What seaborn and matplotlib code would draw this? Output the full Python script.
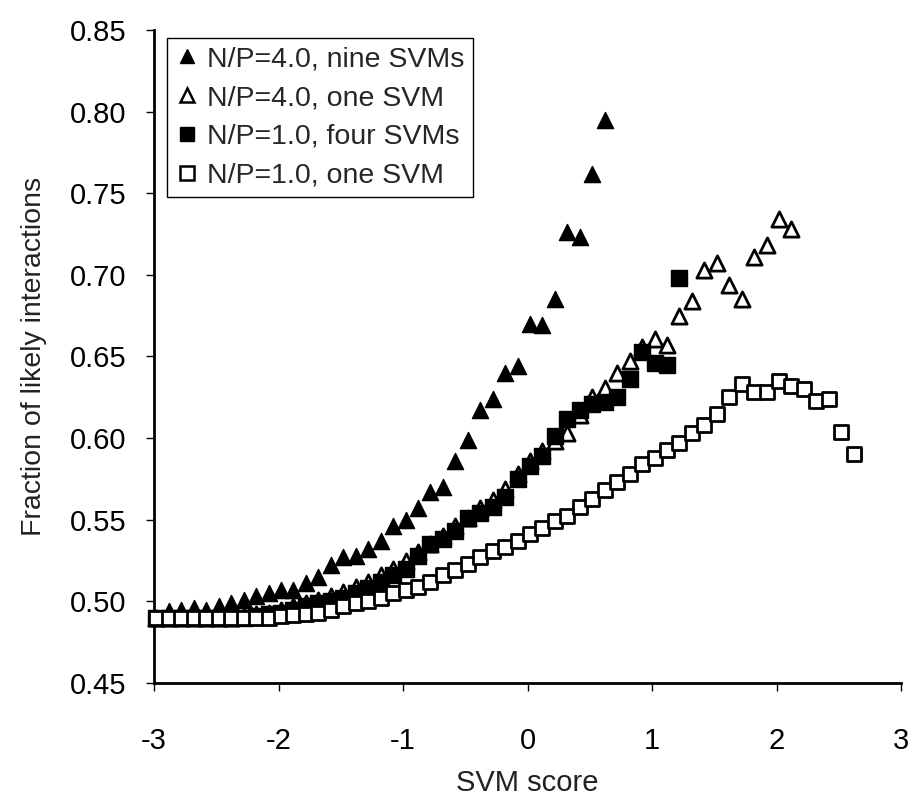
import matplotlib
matplotlib.use("Agg")
import matplotlib.pyplot as plt
from matplotlib.lines import Line2D
import seaborn as sns
import pandas as pd

# SVM score positions (bin centres)
score = [-2.98, -2.88, -2.78, -2.68, -2.58, -2.48, -2.38, -2.28, -2.18, -2.08,
         -1.98, -1.88, -1.78, -1.68, -1.58, -1.48, -1.38, -1.28, -1.18, -1.08,
         -0.98, -0.88, -0.78, -0.68, -0.58, -0.48, -0.38, -0.28, -0.18, -0.08,
         0.02, 0.12, 0.22, 0.32, 0.42, 0.52, 0.62, 0.72, 0.82, 0.92,
         1.02, 1.12, 1.22, 1.32, 1.42, 1.52, 1.62, 1.72, 1.82, 1.92,
         2.02, 2.12, 2.22, 2.32, 2.42, 2.52, 2.62]

np4_nine = [0.490, 0.494, 0.495, 0.496, 0.495, 0.497, 0.499, 0.501, 0.503, 0.505,
            0.507, 0.507, 0.511, 0.515, 0.522, 0.527, 0.528, 0.532, 0.537, 0.546,
            0.550, 0.557, 0.567, 0.570, 0.586, 0.599, 0.617, 0.624, 0.640, 0.644,
            0.670, 0.669, 0.685, 0.726, 0.723, 0.762, 0.795]

np4_one = [0.490, 0.490, 0.490, 0.490, 0.490, 0.490, 0.490, 0.491, 0.492, 0.493,
           0.495, 0.497, 0.499, 0.501, 0.503, 0.506, 0.509, 0.512, 0.516, 0.520,
           0.525, 0.530, 0.535, 0.540, 0.546, 0.551, 0.557, 0.562, 0.569, 0.578,
           0.586, 0.592, 0.598, 0.603, 0.614, 0.625, 0.631, 0.640, 0.647, 0.656,
           0.661, 0.657, 0.675, 0.684, 0.703, 0.707, 0.694, 0.685, 0.711, 0.718,
           0.734, 0.728]

np1_four = [0.490, 0.490, 0.490, 0.490, 0.490, 0.490, 0.490, 0.490, 0.491, 0.492,
            0.493, 0.495, 0.497, 0.499, 0.500, 0.502, 0.505, 0.508, 0.512, 0.516,
            0.520, 0.528, 0.535, 0.538, 0.543, 0.551, 0.554, 0.558, 0.564, 0.575,
            0.583, 0.589, 0.601, 0.612, 0.617, 0.621, 0.622, 0.625, 0.636, 0.653,
            0.646, 0.645, 0.698]

np1_one = [0.490, 0.490, 0.490, 0.490, 0.490, 0.490, 0.490, 0.490, 0.490, 0.490,
           0.491, 0.4915, 0.492, 0.493, 0.495, 0.497, 0.499, 0.500, 0.502, 0.505,
           0.507, 0.509, 0.512, 0.516, 0.519, 0.523, 0.527, 0.531, 0.533, 0.537,
           0.541, 0.545, 0.549, 0.552, 0.558, 0.563, 0.568, 0.573, 0.578, 0.584,
           0.588, 0.593, 0.597, 0.603, 0.608, 0.615, 0.625, 0.633, 0.628, 0.628,
           0.635, 0.632, 0.630, 0.623, 0.624, 0.604, 0.590]

labels = ["N/P=4.0, nine SVMs", "N/P=4.0, one SVM",
          "N/P=1.0, four SVMs", "N/P=1.0, one SVM"]
x_ticks = [-3, -2, -1, 0, 1, 2, 3]
x_ticklabels = ["-3", "-2", "-1", "0", "1", "2", "3"]
y_ticks = [0.45, 0.50, 0.55, 0.60, 0.65, 0.70, 0.75, 0.80, 0.85]
y_ticklabels = ["0.45", "0.50", "0.55", "0.60", "0.65", "0.70", "0.75", "0.80", "0.85"]

sns.set_theme(style="white")
plt.rcParams["font.family"] = ["Liberation Sans", "DejaVu Sans"]

fig = plt.figure(figsize=(9.14, 8.08), dpi=100)
ax = fig.add_axes([0.1685, 0.1547, 0.8173, 0.8082])

series = [
    (np4_nine, "^", "black", 1.0, 135),
    (np4_one, "^", "white", 2.0, 120),
    (np1_four, "s", "black", 1.0, 125),
    (np1_one, "s", "white", 2.0, 115),
]
for (vals, mk, face, lw, sz), lab in zip(series, labels):
    df = pd.DataFrame({"score": score[:len(vals)], "frac": vals})
    sns.scatterplot(data=df, x="score", y="frac", marker=mk, s=sz,
                    color=face, edgecolor="black", linewidth=lw, ax=ax,
                    zorder=3, clip_on=False)

ax.set_xlim(-3, 3)
ax.set_ylim(0.45, 0.85)
ax.set_xticks(x_ticks)
ax.set_xticklabels(x_ticklabels)
ax.set_yticks(y_ticks)
ax.set_yticklabels(y_ticklabels)
ax.tick_params(axis="x", direction="out", length=6, width=1, pad=26,
               labelsize=21, bottom=True, colors="black")
ax.tick_params(axis="y", direction="out", length=6, width=1, pad=14,
               labelsize=21, left=True, colors="black")
for s in ["top", "right"]:
    ax.spines[s].set_visible(False)
for s in ["left", "bottom"]:
    ax.spines[s].set_color("black")
    ax.spines[s].set_linewidth(2)

ax.set_xlabel("SVM score", fontsize=21, labelpad=10, color="#222222")
ax.set_ylabel("Fraction of likely interactions", fontsize=20.5, labelpad=16,
              color="#222222")

handles = [
    Line2D([], [], linestyle="none", marker="^", markersize=10,
           markerfacecolor="black", markeredgecolor="black"),
    Line2D([], [], linestyle="none", marker="^", markersize=10,
           markerfacecolor="white", markeredgecolor="black", markeredgewidth=1.8),
    Line2D([], [], linestyle="none", marker="s", markersize=10,
           markerfacecolor="black", markeredgecolor="black"),
    Line2D([], [], linestyle="none", marker="s", markersize=10,
           markerfacecolor="white", markeredgecolor="black", markeredgewidth=1.8),
]
leg = ax.legend(handles, labels, loc="upper left", bbox_to_anchor=(0.018, 0.988),
                fontsize=20.5, frameon=True, fancybox=False, framealpha=1,
                edgecolor="black", handlelength=0.8, handletextpad=0.3,
                borderpad=0.3, labelspacing=0.45, borderaxespad=0.0)
leg.get_frame().set_linewidth(1.0)

fig.savefig("out.png", dpi=100, facecolor="white")
